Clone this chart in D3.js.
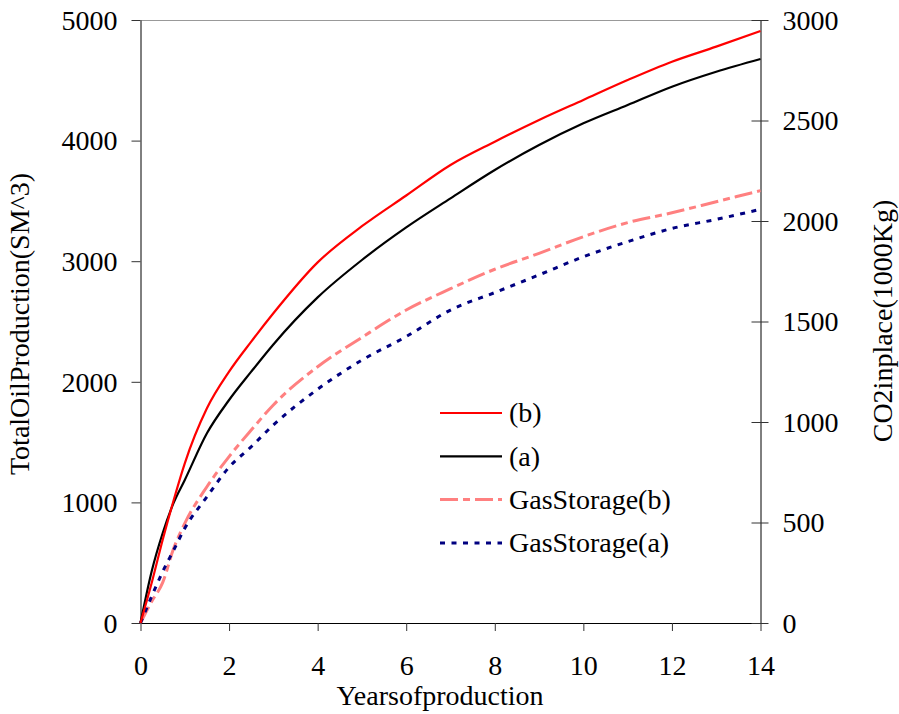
<!DOCTYPE html>
<html>
<head>
<meta charset="utf-8">
<script src="https://cdn.jsdelivr.net/npm/d3@7"></script>
<style>
  html, body { margin: 0; padding: 0; background: #fff; }
  svg { display: block; font-family: "Liberation Serif", "Times New Roman", serif; }
</style>
</head>
<body>
<svg id="chart" width="899" height="714"></svg>
<script>
// Years of production (x values shared by every series)
const years = [0, 0.25, 0.5, 0.75, 1, 1.5, 2, 2.5, 3, 4, 5, 6, 7, 8, 9, 10, 11, 12, 13, 14];

// Total oil production, SM^3 (left axis)
const oilB = [0, 329, 688, 1020, 1324, 1780, 2084, 2333, 2568, 2990, 3290, 3545, 3798, 3991, 4171, 4337, 4502, 4654, 4779, 4909];
const oilA = [0, 425, 744, 998, 1186, 1573, 1849, 2084, 2310, 2700, 3010, 3280, 3521, 3756, 3963, 4143, 4295, 4447, 4571, 4677];

// CO2 in place, 1000 Kg (right axis)
const gasB = [0, 106, 201, 372, 496, 678, 828, 960, 1085, 1275, 1421, 1557, 1663, 1760, 1839, 1922, 1992, 2041, 2096, 2151];
const gasA = [0, 131, 255, 363, 471, 628, 775, 877, 985, 1163, 1308, 1425, 1557, 1644, 1732, 1822, 1897, 1963, 2008, 2058];

const xTicks = [0, 2, 4, 6, 8, 10, 12, 14];
const leftTicks = [0, 1000, 2000, 3000, 4000, 5000];
const rightTicks = [0, 500, 1000, 1500, 2000, 2500, 3000];

const seriesNames = ["(b)", "(a)", "GasStorage(b)", "GasStorage(a)"];

const svg = d3.select("#chart");
const m = { left: 140.5, right: 760.5, top: 20, bottom: 623 };
const fs = 28;

const x = d3.scaleLinear().domain([0, 14]).range([m.left, m.right]);
const yL = d3.scaleLinear().domain([0, 5000]).range([m.bottom, m.top]);
const yR = d3.scaleLinear().domain([0, 3000]).range([m.bottom, m.top]);

// top border
svg.append("line")
  .attr("x1", m.left).attr("x2", m.right)
  .attr("y1", m.top + 0.5).attr("y2", m.top + 0.5)
  .attr("stroke", "#999").attr("stroke-width", 1);

// bottom axis
const gx = svg.append("g").attr("transform", `translate(0,${m.bottom})`)
  .call(d3.axisBottom(x).tickValues(xTicks).tickSize(8).tickSizeOuter(0).tickFormat(d3.format("d")));

// left axis
const gl = svg.append("g").attr("transform", `translate(${m.left},0)`)
  .call(d3.axisLeft(yL).tickValues(leftTicks).tickSize(9).tickSizeOuter(0).tickPadding(14).tickFormat(d3.format("d")));

// right axis
const gr = svg.append("g").attr("transform", `translate(${m.right},0)`)
  .call(d3.axisRight(yR).tickValues(rightTicks).tickSize(8).tickSizeOuter(0).tickPadding(14).tickFormat(d3.format("d")));
gr.selectAll(".tick line").attr("x1", -9);

[gx, gl, gr].forEach(g => {
  g.select(".domain").attr("stroke", "#000");
  g.selectAll(".tick line").attr("stroke", "#333");
  g.selectAll("text").attr("font-size", fs).attr("fill", "#000")
    .attr("font-family", "Liberation Serif, Times New Roman, serif");
});
gx.selectAll("text").attr("dy", null).attr("y", 52);
gl.selectAll("text").attr("dy", "0.33em");
gr.selectAll("text").attr("dy", "0.33em");

// lines
const lineL = d3.line().x((d, i) => x(years[i])).y(d => yL(d)).curve(d3.curveMonotoneX);
const lineR = d3.line().x((d, i) => x(years[i])).y(d => yR(d)).curve(d3.curveMonotoneX);

const styles = [
  { color: "#ff0000", width: 2.2, dash: null },
  { color: "#000000", width: 2.2, dash: null },
  { color: "#ff8080", width: 3, dash: "18,5,7,5" },
  { color: "#000080", width: 3, dash: "5,6.5" }
];

const plot = svg.append("g");
plot.append("path").attr("d", lineR(gasB)).attr("fill", "none")
  .attr("stroke", styles[2].color).attr("stroke-width", styles[2].width).attr("stroke-dasharray", styles[2].dash);
plot.append("path").attr("d", lineR(gasA)).attr("fill", "none")
  .attr("stroke", styles[3].color).attr("stroke-width", styles[3].width).attr("stroke-dasharray", styles[3].dash);
plot.append("path").attr("d", lineL(oilA)).attr("fill", "none")
  .attr("stroke", styles[1].color).attr("stroke-width", styles[1].width);
plot.append("path").attr("d", lineL(oilB)).attr("fill", "none")
  .attr("stroke", styles[0].color).attr("stroke-width", styles[0].width);

// legend
const legend = svg.append("g").attr("transform", "translate(440,413)");
seriesNames.forEach((name, i) => {
  const g = legend.append("g").attr("transform", `translate(0,${i * 43.3})`);
  g.append("line").attr("x1", 0).attr("x2", 62).attr("y1", 0).attr("y2", 0)
    .attr("stroke", styles[i].color).attr("stroke-width", styles[i].width)
    .attr("stroke-dasharray", styles[i].dash);
  g.append("text").attr("x", 69).attr("y", 0).attr("dy", "0.33em")
    .attr("font-size", fs).text(name);
});

// axis titles
svg.append("text").attr("x", 440).attr("y", 705).attr("text-anchor", "middle")
  .attr("font-size", fs).text("Yearsofproduction");
svg.append("text").attr("transform", "translate(29,324) rotate(-90)").attr("text-anchor", "middle")
  .attr("font-size", fs).text("TotalOilProduction(SM^3)");
svg.append("text").attr("transform", "translate(892,321) rotate(-90)").attr("text-anchor", "middle")
  .attr("font-size", fs).text("CO2inplace(1000Kg)");
</script>
</body>
</html>
